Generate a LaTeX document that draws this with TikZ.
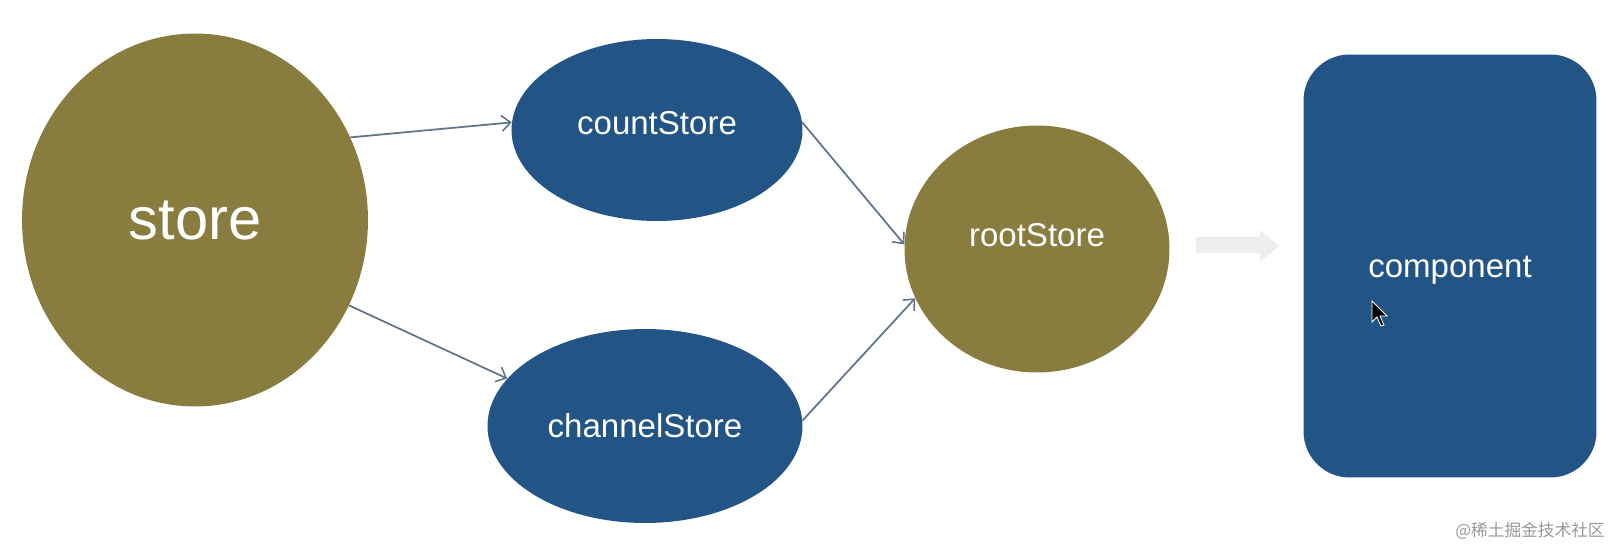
\documentclass[tikz,border=0pt]{standalone}
\usepackage{fontspec}
\setmainfont{Liberation Sans}
\newfontfamily\cjkfont{Noto Sans CJK SC}
\usetikzlibrary{arrows.meta,shapes.geometric}

\definecolor{storeolive}{RGB}{136,124,63}
\definecolor{storeblue}{RGB}{35,84,134}
\definecolor{linkgray}{RGB}{98,116,140}
\definecolor{hintgray}{RGB}{238,238,238}

\tikzset{
  oliveball/.style={ellipse, fill=storeolive, text=white, inner sep=0pt,
    font=\fontsize{18.8}{20}\selectfont},
  blueball/.style={ellipse, fill=storeblue, text=white, inner sep=0pt,
    font=\fontsize{18.8}{20}\selectfont},
  flow/.style={draw=linkgray, line width=1pt,
    -{Straight Barb[length=5pt,width=9pt,line width=0.9pt]}},
}

\begin{document}
\begin{tikzpicture}[x=0.02cm,y=-0.02cm]
  % Canvas
  \useasboundingbox (0,0) rectangle (1613,547);
  \fill[white] (0,0) rectangle (1613,547);

  % Stores
  \node[oliveball, minimum width=6.92cm, minimum height=7.46cm,
    font=\fontsize{34}{36}\selectfont] (store) at (195,220) {store};
  \node[blueball, minimum width=5.82cm, minimum height=3.64cm,
    label={[text=white, yshift=0.13cm, font=\fontsize{18.8}{20}\selectfont]center:countStore}]
    (count) at (657,130) {};
  \node[blueball, minimum width=6.3cm, minimum height=3.88cm] (channel) at (645,426) {channelStore};
  \node[oliveball, minimum width=5.3cm, minimum height=4.94cm,
    label={[text=white, yshift=0.28cm, font=\fontsize{18.8}{20}\selectfont]center:rootStore}]
    (root) at (1037,249) {};

  % Component
  \node[rectangle, rounded corners=0.92cm, fill=storeblue,
    minimum width=5.86cm, minimum height=8.46cm,
    label={[text=white, yshift=-0.08cm, font=\fontsize{18.8}{20}\selectfont]center:component}]
    (comp) at (1450,266) {};

  % Connectors
  \draw[flow] (store.28) -- (count.177);
  \draw[flow] (store.-29) -- (channel.161);
  \draw[flow] (count.3) -- (root.178);
  \draw[flow] (channel.2) -- (root.202);

  % Hint arrow
  \fill[hintgray] (1196,237) -- (1260,237) -- (1260,230) -- (1279,246)
    -- (1260,262) -- (1260,253) -- (1196,253) -- cycle;

  % Mouse pointer
  \filldraw[fill=black, draw=white, line width=0.5pt, shift={(1372,301)}]
    (0,0) -- (0,21) -- (5,16) -- (9,25) -- (12,24) -- (8,15) -- (15,15) -- cycle;

  % Watermark
  \node[anchor=east, text=black!40, inner sep=0pt,
    font=\cjkfont\fontsize{9.5}{10}\selectfont] (watermark) at (1605,531) {@稀土掘金技术社区};
\end{tikzpicture}
\end{document}
